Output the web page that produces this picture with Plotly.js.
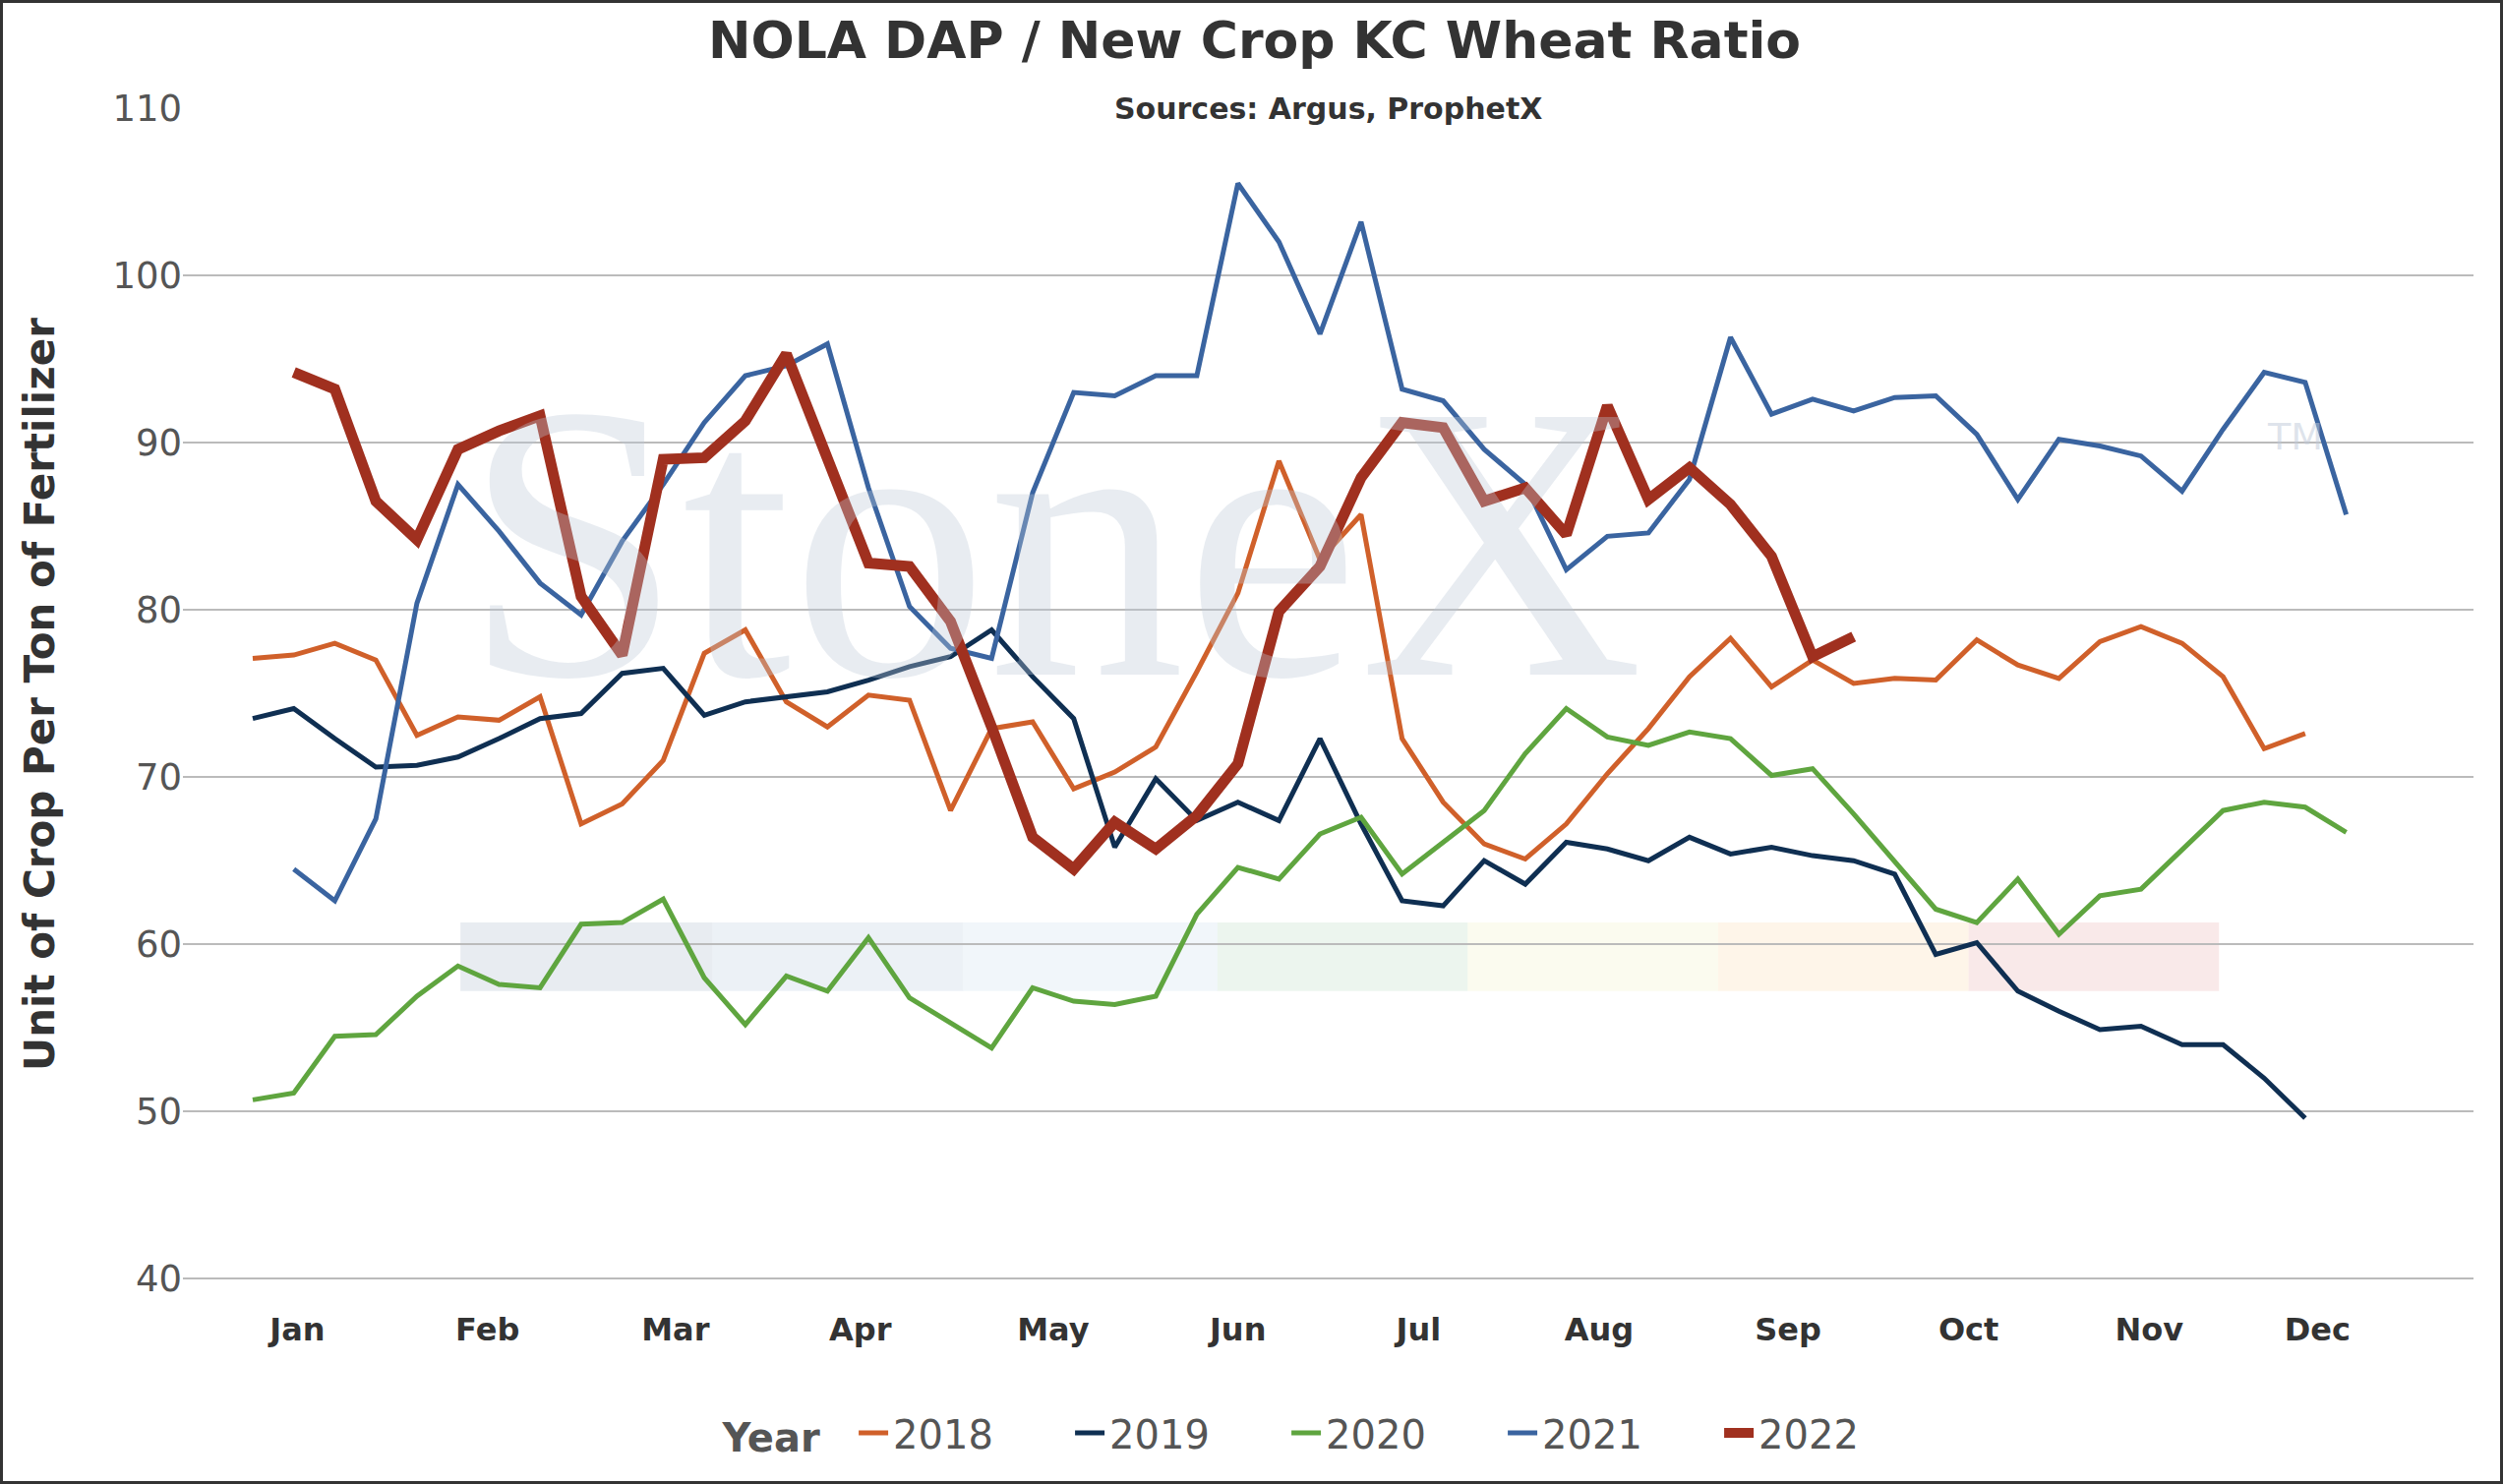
<!DOCTYPE html>
<html><head><meta charset="utf-8">
<script src="https://cdn.plot.ly/plotly-3.0.1.min.js"></script>
<style>html,body{margin:0;padding:0;background:#fff}#c{width:2545px;height:1509px;box-sizing:border-box;border:3px solid #333}</style>
</head><body><div id="c"></div>
<script>
const monthLabels=["Jan","Feb","Mar","Apr","May","Jun","Jul","Aug","Sep","Oct","Nov","Dec"];
const monthPos=[1.09,5.72,10.3,14.8,19.5,24,28.4,32.8,37.4,41.8,46.2,50.3];
const s2018=[77.1,77.3,78,77,72.5,73.6,73.4,74.8,67.2,68.4,71,77.4,78.8,74.5,73,74.9,74.6,68,72.9,73.3,69.3,70.3,71.8,76.3,81,88.9,83,85.7,72.3,68.5,66,65.1,67.2,70.2,72.9,76,78.3,75.4,77,75.6,75.9,75.8,78.2,76.7,75.9,78.1,79,78,76,71.7,72.6];
const s2019=[73.5,74.1,72.3,70.6,70.7,71.2,72.3,73.5,73.8,76.2,76.5,73.7,74.5,74.8,75.1,75.8,76.6,77.2,78.8,76,73.5,65.8,69.9,67.4,68.5,67.4,72.3,67.2,62.6,62.3,65,63.6,66.1,65.7,65,66.4,65.4,65.8,65.3,65,64.2,59.4,60.1,57.2,56,54.9,55.1,54,54,52,49.6];
const s2020=[50.7,51.1,54.5,54.6,56.9,58.7,57.6,57.4,61.2,61.3,62.7,58,55.2,58.1,57.2,60.4,56.8,55.3,53.8,57.4,56.6,56.4,56.9,61.8,64.6,63.9,66.6,67.6,64.2,66.1,68,71.4,74.1,72.4,71.9,72.7,72.3,70.1,70.5,67.8,65,62.1,61.3,63.9,60.6,62.9,63.3,65.7,68,68.5,68.2,66.7];
const s2021=[64.5,62.6,67.5,80.4,87.5,84.7,81.6,79.7,84.1,87.5,91.2,94,94.6,95.9,87.3,80.2,77.7,77.1,87,93,92.8,94,94,105.5,102,96.5,103.2,93.2,92.5,89.6,87.5,82.4,84.4,84.6,87.8,96.3,91.7,92.6,91.9,92.7,92.8,90.5,86.6,90.2,89.8,89.2,87.1,90.8,94.2,93.6,85.7];
const s2022=[94.2,93.2,86.5,84.2,89.6,90.7,91.6,80.8,77.3,89,89.1,91.3,95.3,89,82.8,82.6,79.3,73,66.4,64.5,67.3,65.7,67.7,70.8,79.9,82.6,87.9,91.2,90.9,86.5,87.3,84.5,92.2,86.6,88.5,86.3,83.2,77.2,78.4];
const idx=(arr,start)=>arr.map((_,i)=>i+start);
const mk=(name,y,start,color,w)=>({type:'scatter',mode:'lines',name,x:idx(y,start),y,line:{color,width:w}});
const traces=[mk('2018',s2018,0,'#d0602a',5),mk('2019',s2019,0,'#0f2f52',5),mk('2020',s2020,0,'#5fa53f',5),mk('2021',s2021,1,'#3a64a0',5),mk('2022',s2022,1,'#a0301f',11)];
const bands=[[5.06,11.2,'rgba(190,200,215,0.35)'],[11.2,17.3,'rgba(200,215,230,0.35)'],[17.3,23.5,'rgba(215,230,240,0.35)'],[23.5,29.6,'rgba(200,225,205,0.35)'],[29.6,35.7,'rgba(245,245,215,0.4)'],[35.7,41.8,'rgba(252,230,200,0.4)'],[41.8,47.9,'rgba(240,200,200,0.4)']];
const shapes=bands.map(b=>({type:'rect',xref:'x',yref:'y',x0:b[0],x1:b[1],y0:57.2,y1:61.3,fillcolor:b[2],line:{width:0},layer:'below'}));
Plotly.newPlot('c',traces,{
 width:2545,height:1509,paper_bgcolor:'rgba(0,0,0,0)',plot_bgcolor:'rgba(0,0,0,0)',
 margin:{l:183,r:33,t:107,b:210},
 font:{family:'DejaVu Sans',color:'#555'},
 title:{text:'<b>NOLA DAP / New Crop KC Wheat Ratio</b>',font:{size:52,color:'#333'},x:0.5,xanchor:'center',y:0.987,yanchor:'top'},
 xaxis:{range:[-1.7,54.1],tickvals:monthPos,ticktext:monthLabels.map(m=>'<b>'+m+'</b>'),tickfont:{size:32,color:'#333'},showgrid:false,zeroline:false,showline:false,ticks:'',ticklabelstandoff:28},
 yaxis:{range:[39.9,110],dtick:10,tickfont:{size:37,color:'#555'},gridcolor:'#bbb',gridwidth:2,zeroline:false,ticks:'',
   title:{text:'<b>Unit of Crop Per Ton of Fertilizer</b>',font:{size:42,color:'#333'},standoff:45}},
 showlegend:true,
 legend:{orientation:'h',x:0.5,xanchor:'center',y:-0.13,yanchor:'middle',bgcolor:'rgba(0,0,0,0)',entrywidth:175,font:{size:40,color:'#555'},title:{text:'<b>Year</b>  ',font:{size:40,color:'#555'}}},
 shapes,
 annotations:[
  {text:'<b>Sources: Argus, ProphetX</b>',xref:'paper',yref:'paper',x:0.5,y:1.0,yanchor:'middle',showarrow:false,font:{size:30,color:'#333'}},
  {text:'StoneX',xref:'paper',yref:'paper',x:0.38,y:0.63,showarrow:false,font:{family:'Liberation Serif',size:400,color:'rgba(190,200,215,0.35)'}},
  {text:'TM',xref:'paper',yref:'paper',x:0.935,y:0.74,showarrow:false,font:{size:38,color:'rgba(190,200,215,0.5)'}}
 ]
},{displayModeBar:false});
</script></body></html>
